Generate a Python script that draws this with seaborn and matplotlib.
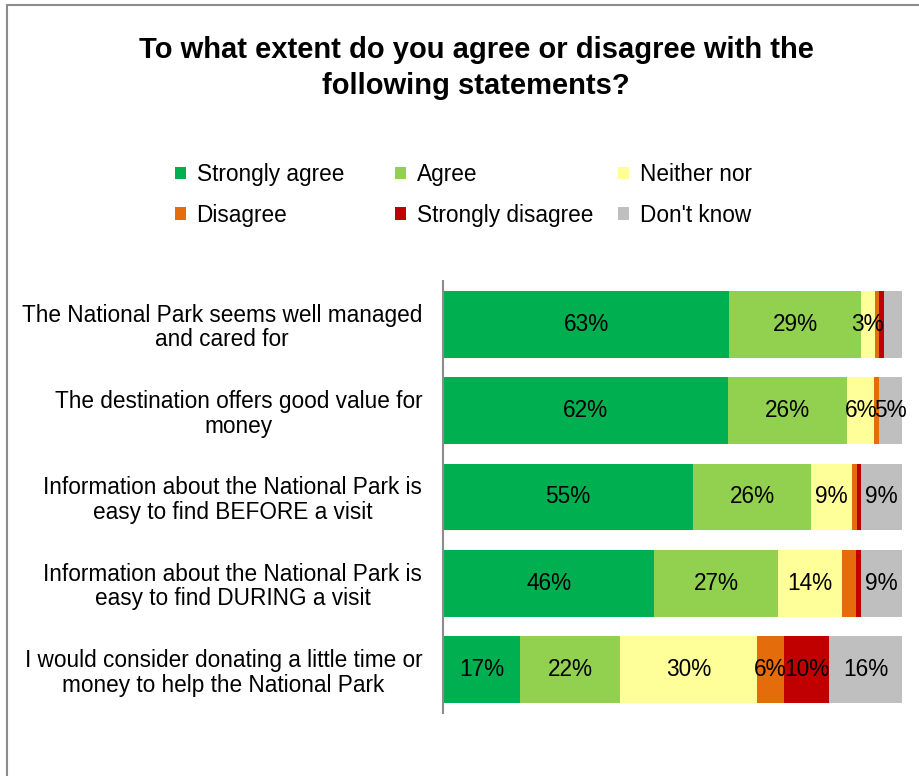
import matplotlib
matplotlib.use("Agg")
import matplotlib.pyplot as plt
from matplotlib.patches import Patch, Rectangle
import numpy as np
import pandas as pd
import seaborn as sns

# Survey statements (top to bottom) and response shares in percent
statements = [
    "The National Park seems well managed\nand cared for",
    "The destination offers good value for\nmoney",
    "Information about the National Park is\neasy to find BEFORE a visit",
    "Information about the National Park is\neasy to find DURING a visit",
    "I would consider donating a little time or\nmoney to help the National Park",
]
strongly_agree = [63, 62, 55, 46, 17]
agree = [29, 26, 26, 27, 22]
neither_nor = [3, 6, 9, 14, 30]
disagree = [1, 1, 1, 3, 6]
strongly_disagree = [1, 0, 1, 1, 10]
dont_know = [4, 5, 9, 9, 16]

series_names = ["Strongly agree", "Agree", "Neither nor",
                "Disagree", "Strongly disagree", "Don't know"]
series_colors = ["#00B050", "#92D050", "#FFFF99",
                 "#E46C0A", "#C00000", "#BFBFBF"]
# segments whose value label is left off
hidden_labels = {(0, "Don't know"), (3, "Disagree")}

sns.set_theme(style="white")
plt.rcParams["font.family"] = ["Liberation Sans", "DejaVu Sans"]

values = pd.DataFrame(
    dict(zip(series_names, [strongly_agree, agree, neither_nor,
                            disagree, strongly_disagree, dont_know])),
    index=statements,
)
# 100% stacked: each row scaled to its own total
shares = values.div(values.sum(axis=1), axis=0) * 100
cumulative = shares.cumsum(axis=1)

W, H, DPI = 920, 776, 100
fig = plt.figure(figsize=(W / DPI, H / DPI), dpi=DPI)
ax = fig.add_axes([443 / W, 1 - 713 / H, (902 - 443) / W, (713 - 281) / H])

# draw cumulative bars from the outermost segment inwards
for name, color in reversed(list(zip(series_names, series_colors))):
    df = pd.DataFrame({"statement": statements, "end": cumulative[name].values})
    sns.barplot(data=df, x="end", y="statement", orient="h", color=color,
                width=0.775, saturation=1, ax=ax, edgecolor="none", linewidth=0)

fs = 16.3
for i, stmt in enumerate(statements):
    for name in series_names:
        v = values.loc[stmt, name]
        if v < 3 or (i, name) in hidden_labels:
            continue
        end = cumulative.loc[stmt, name]
        mid = end - shares.loc[stmt, name] / 2
        ax.text(mid, i, f"{v}%", ha="center", va="center",
                fontsize=fs, color="black")

ax.set_xlim(0, 100)
ax.set_ylim(4.5, -0.5)
ax.set_xlabel("")
ax.set_ylabel("")
ax.set_xticks([])
for side in ["top", "right", "bottom"]:
    ax.spines[side].set_visible(False)
ax.spines["left"].set_color("#8C8C8C")
ax.spines["left"].set_linewidth(1.5)
ax.tick_params(axis="y", length=0, pad=15, labelsize=fs, labelcolor="black")
for lbl in ax.get_yticklabels():
    lbl.set_multialignment("center")
    lbl.set_linespacing(1.08)

# title
fig.text(476 / W, 1 - 68 / H,
         "To what extent do you agree or disagree with the\nfollowing statements?",
         ha="center", va="center", fontsize=21, fontweight="bold",
         color="black", linespacing=1.38)

# legend: three columns of two entries
handles = [Patch(facecolor=c, edgecolor="none") for c in series_colors]
col_x = [175, 395, 618]
for k, x in enumerate(col_x):
    idx = [k, k + 3]
    leg = fig.legend([handles[j] for j in idx], [series_names[j] for j in idx],
                     loc="upper left", bbox_to_anchor=(x / W, 1 - 163 / H),
                     frameon=False, fontsize=fs, borderpad=0, borderaxespad=0,
                     handlelength=0.5, handleheight=0.5, handletextpad=0.45,
                     labelspacing=0.78, labelcolor="black")

# outer chart frame
fig.patches.append(Rectangle((7.5 / W, -0.05), 1.2, 1 - 5 / H + 0.05,
                             transform=fig.transFigure, fill=False,
                             edgecolor="#8C8C8C", linewidth=1.5))

fig.savefig("out.png", dpi=DPI)
